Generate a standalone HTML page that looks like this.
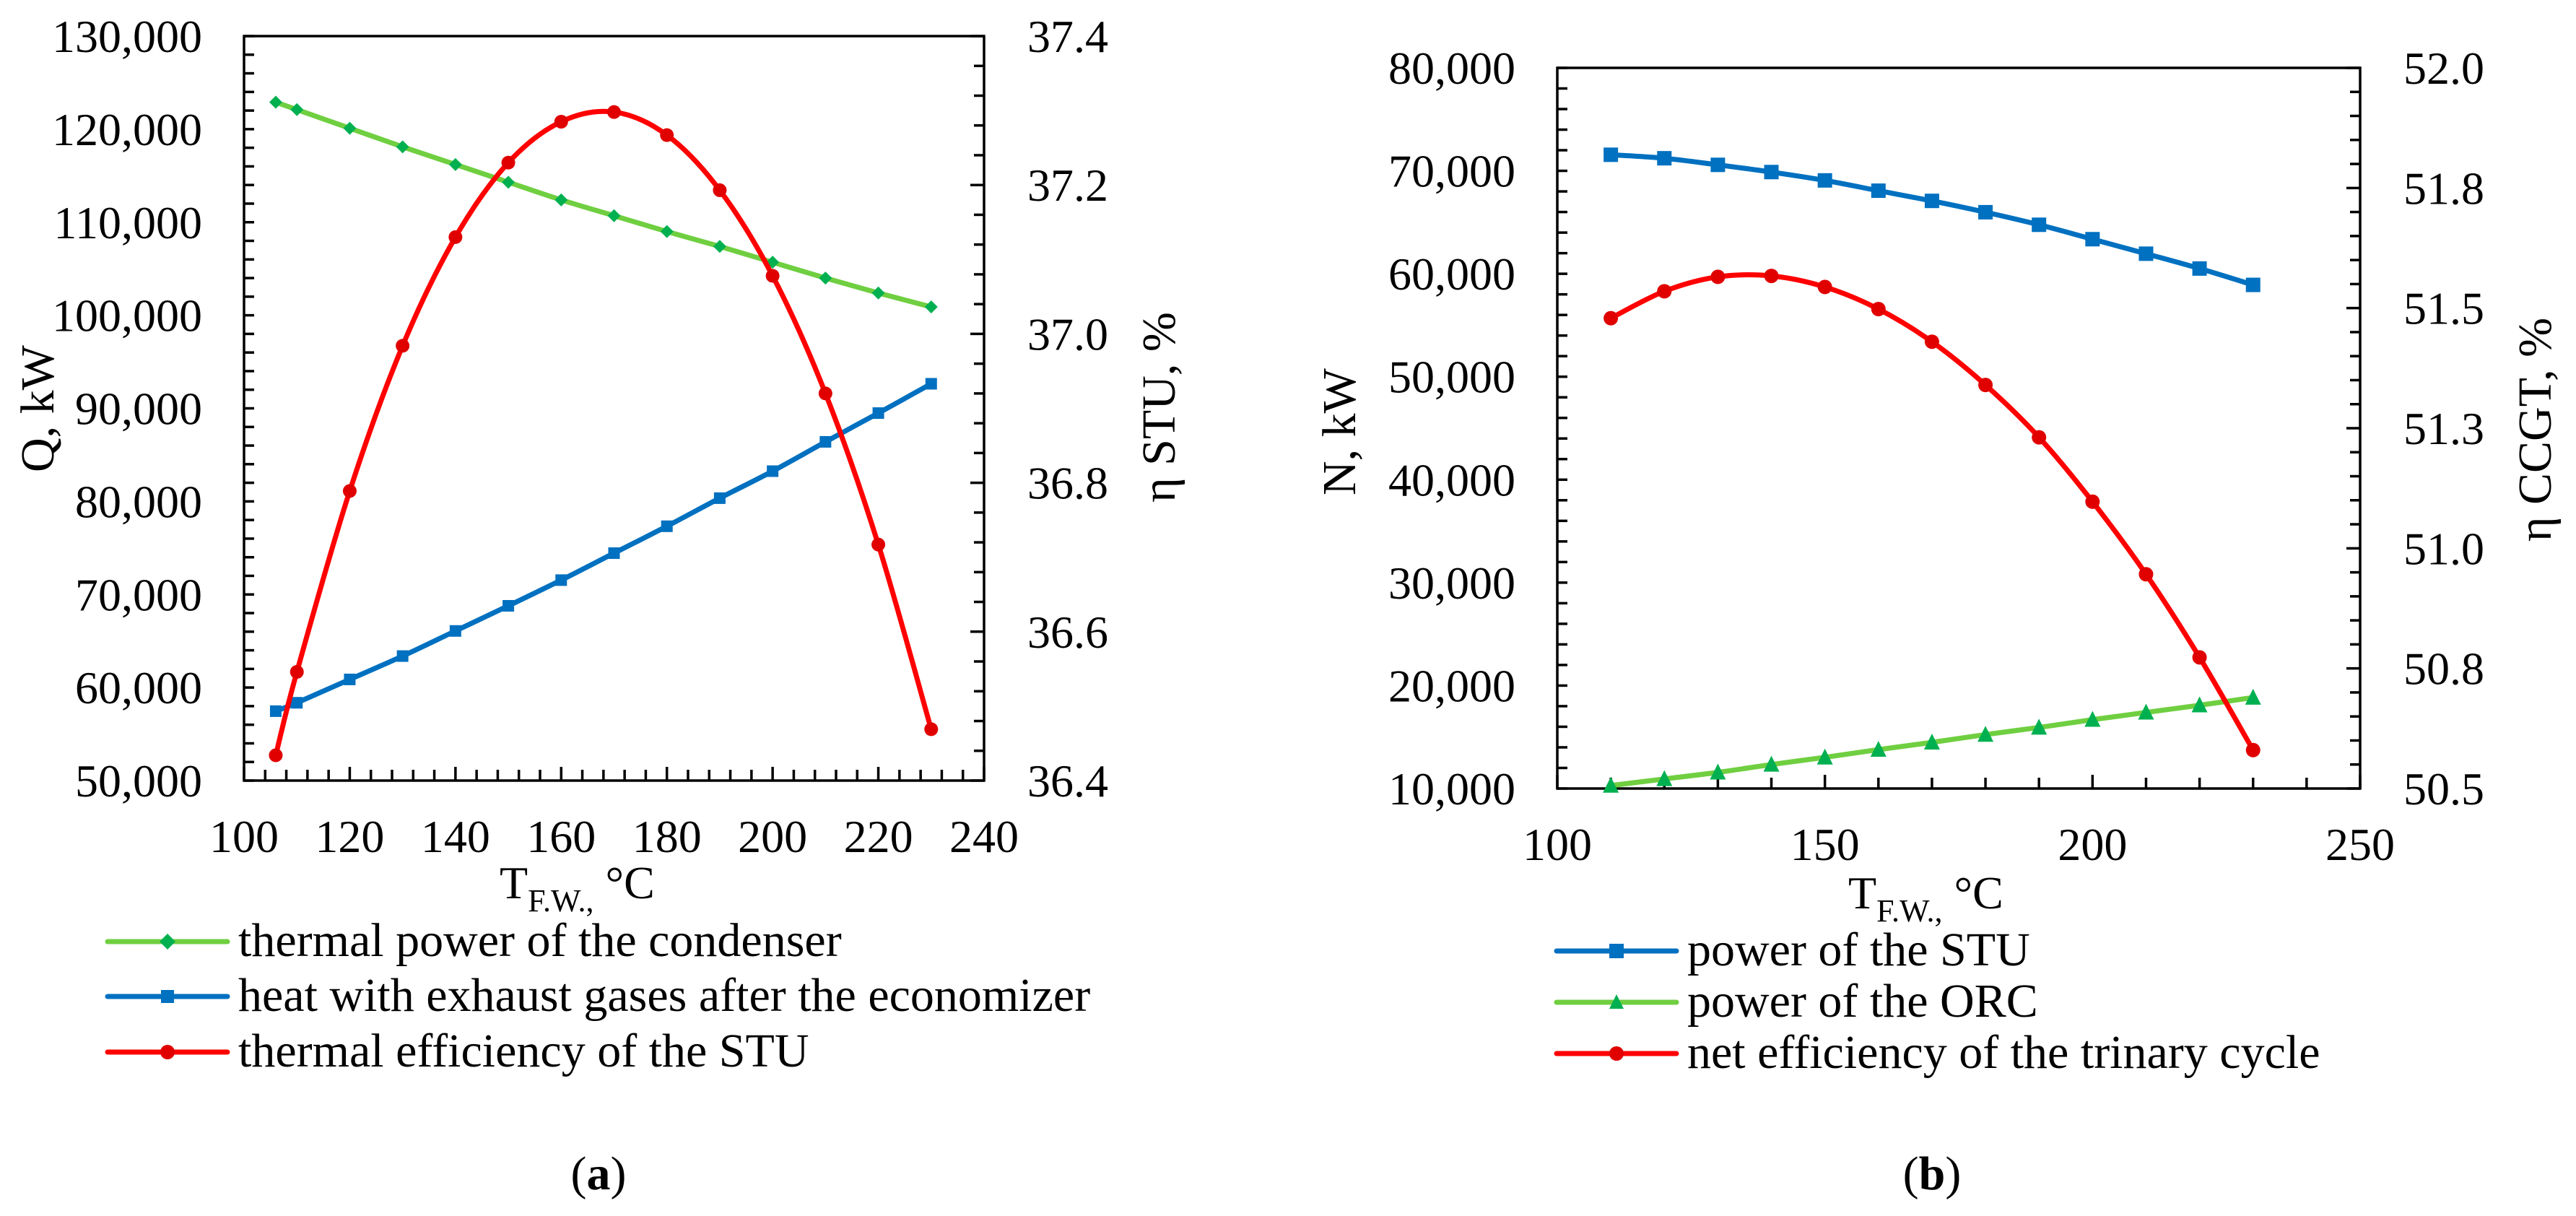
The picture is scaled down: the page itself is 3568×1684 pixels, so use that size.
<!DOCTYPE html>
<html><head><meta charset="utf-8"><style>
html,body{margin:0;padding:0;background:#fff}
svg{display:block}
text{font-family:"Liberation Serif",serif;fill:#000}
</style></head><body>
<svg id="fig" xmlns="http://www.w3.org/2000/svg" width="3568" height="1684" viewBox="0 0 3568 1684"></svg>
<script>
// ---- Chart (a) data ----
const aX = [106,110,120,130,140,150,160,170,180,190,200,210,220,230];
const aCondenser = [122900,122100,120100,118100,116200,114300,112400,110700,109000,107400,105700,104000,102400,100900];
const aExhaust = [57460,58360,60870,63380,66080,68780,71540,74440,77330,80350,83250,86400,89490,92640];
const aEta = [36.434,36.546,36.789,36.984,37.130,37.230,37.285,37.298,37.267,37.193,37.078,36.920,36.717,36.469];
const aXTicks = ["100","120","140","160","180","200","220","240"];
const aYTicks = ["50,000","60,000","70,000","80,000","90,000","100,000","110,000","120,000","130,000"];
const aY2Ticks = ["36.4","36.6","36.8","37.0","37.2","37.4"];
// ---- Chart (b) data ----
const bX = [110,120,130,140,150,160,170,180,190,200,210,220,230];
const bSTU = [71560,71220,70580,69880,69070,68070,67080,65980,64760,63360,61950,60510,58920];
const bORC = [10290,10930,11570,12330,13030,13780,14480,15240,15930,16690,17390,18090,18840];
const bEta = [51.479,51.535,51.565,51.567,51.544,51.498,51.430,51.340,51.231,51.097,50.946,50.773,50.580];
const bXTicks = ["100","150","200","250"];
const bYTicks = ["10,000","20,000","30,000","40,000","50,000","60,000","70,000","80,000"];
const bY2Ticks = ["50.5","50.8","51.0","51.3","51.5","51.8","52.0"];

const NS="http://www.w3.org/2000/svg";
const svg=document.getElementById('fig');
function mk(tag,attrs,parent){const e=document.createElementNS(NS,tag);for(const k in attrs)e.setAttribute(k,attrs[k]);(parent||svg).appendChild(e);return e;}
function scale(d0,d1,r0,r1){return v=>r0+(v-d0)/(d1-d0)*(r1-r0);}
function smoothPath(pts){
  let d=`M${pts[0][0]},${pts[0][1]}`;
  for(let i=0;i<pts.length-1;i++){
    const p0=pts[Math.max(0,i-1)],p1=pts[i],p2=pts[i+1],p3=pts[Math.min(pts.length-1,i+2)];
    const c1=[p1[0]+(p2[0]-p0[0])/6,p1[1]+(p2[1]-p0[1])/6];
    const c2=[p2[0]-(p3[0]-p1[0])/6,p2[1]-(p3[1]-p1[1])/6];
    d+=` C${c1[0]},${c1[1]} ${c2[0]},${c2[1]} ${p2[0]},${p2[1]}`;
  }
  return d;
}
function marker(g,type,x,y,fill,s){
  let e;
  if(type==='diamond')e=mk('polygon',{points:`${x},${y-s} ${x+s},${y} ${x},${y+s} ${x-s},${y}`,fill:fill},g);
  else if(type==='square')e=mk('rect',{x:x-s,y:y-s,width:2*s,height:2*s,fill:fill},g);
  else if(type==='circle')e=mk('circle',{cx:x,cy:y,r:s,fill:fill},g);
  else e=mk('polygon',{points:`${x},${y-s*1.1} ${x+s},${y+s*0.9} ${x-s},${y+s*0.9}`,fill:fill},g);
  return e;
}
function series(name,xs,ys,sx,sy,line,mcol,type,s){
  const g=mk('g',{});
  
  
  const pts=xs.map((x,i)=>[sx(x),sy(ys[i])]);
  const p=mk('path',{d:smoothPath(pts),fill:'none',stroke:line,'stroke-width':7,'stroke-linejoin':'round'},g);
  
  
  pts.forEach(pt=>{const m=marker(g,type,pt[0],pt[1],mcol,s);
    
    });
}
function txt(str,attrs,name){const t=mk('text',attrs);t.textContent=str;
  
  return t;}

function chart(c){
  const sx=scale(c.x0,c.x1,c.L,c.R), sy=scale(c.y0,c.y1,c.B,c.T), sy2=scale(c.z0,c.z1,c.B,c.T);
  const ax=mk('g',{stroke:'#000','stroke-width':3.5,fill:'none'});
  
  
  mk('rect',{x:c.L,y:c.T,width:c.R-c.L,height:c.B-c.T},ax);
  for(let v=c.y0;v<=c.y1+1e-9;v+=c.yMinor){const y=sy(v);mk('line',{x1:c.L,x2:c.L+14,y1:y,y2:y},ax);}
  for(let v=c.z0;v<=c.z1+1e-9;v+=c.zMinor){const y=sy2(v);const maj=Math.abs(((v-c.z0)/c.zMajor)-Math.round((v-c.z0)/c.zMajor))<1e-6;mk('line',{x1:c.R,x2:c.R-(maj?19:14),y1:y,y2:y},ax);}
  for(let v=c.x0;v<=c.x1+1e-9;v+=c.xMinor){const x=sx(v);const maj=Math.abs(((v-c.x0)/c.xMajor)-Math.round((v-c.x0)/c.xMajor))<1e-6;mk('line',{x1:x,x2:x,y1:c.B,y2:c.B-(maj?19:15)},ax);}
  c.yT.forEach((s,i)=>txt(s,{x:c.L-58,y:sy(c.y0+i*c.yMajor)+22,'font-size':64,'text-anchor':'end'},c.id+'-y-tick-label'));
  c.zT.forEach((s,i)=>txt(s,{x:c.R+60,y:sy2(c.z0+i*c.zMajor)+22,'font-size':64},c.id+'-y2-tick-label'));
  c.xT.forEach((s,i)=>txt(s,{x:sx(c.x0+i*c.xMajor),y:c.xLabY,'font-size':64,'text-anchor':'middle'},c.id+'-x-tick-label'));
  const tt=txt('',{x:c.xtX,y:c.xtY,'font-size':64},c.id+'-x-axis-title');
  tt.innerHTML='T<tspan font-size="44" dy="18">F.W.,</tspan><tspan dy="-18"> °C</tspan>';
  txt(c.yTitle,{x:0,y:0,'font-size':66,'text-anchor':'middle',transform:`translate(${c.ytX},${c.ytY}) rotate(-90)`},c.id+'-y-axis-title');
  txt(c.zTitle,{x:0,y:0,'font-size':66,'text-anchor':'middle',transform:`translate(${c.ztX},${c.ztY}) rotate(-90)`},c.id+'-y2-axis-title');
  return {sx,sy,sy2};
}
function legend(id,x,ys,items){
  items.forEach((it,i)=>{
    const g=mk('g',{});
    
    
    mk('line',{x1:x,x2:x+166,y1:ys[i],y2:ys[i],stroke:it.line,'stroke-width':7,'stroke-linecap':'round'},g);
    marker(g,it.type,x+83,ys[i],it.m,it.s);
    const t=mk('text',{x:x+181,y:ys[i]+20,'font-size':66},g);t.textContent=it.label;
  });
}

const A=chart({id:'chart-a',L:338,R:1363,T:50,B:1081,x0:100,x1:240,xMinor:4,xMajor:20,y0:50000,y1:130000,yMinor:2000,yMajor:10000,z0:36.4,z1:37.4,zMinor:0.04,zMajor:0.2,
  xT:aXTicks,yT:aYTicks,zT:aY2Ticks,xLabY:1180,xtX:692,xtY:1244,yTitle:'Q, kW',ytX:74,ytY:566,zTitle:'η STU, %',ztX:1627,ztY:564});
series('condenser-power',aX,aCondenser,A.sx,A.sy,'#6fcf40','#00b050','diamond',9);
series('exhaust-heat',aX,aExhaust,A.sx,A.sy,'#0070c0','#0070c0','square',8);
series('stu-efficiency',aX,aEta,A.sx,A.sy2,'#ff0000','#e00000','circle',9.5);
legend('chart-a',149,[1304,1380,1457],[
 {line:'#6fcf40',m:'#00b050',type:'diamond',s:11,label:'thermal power of the condenser'},
 {line:'#0070c0',m:'#0070c0',type:'square',s:9,label:'heat with exhaust gases after the economizer'},
 {line:'#ff0000',m:'#e00000',type:'circle',s:10,label:'thermal efficiency of the STU'}]);
const la=mk('text',{x:829,y:1647,'font-size':66,'text-anchor':'middle'});la.innerHTML='(<tspan font-weight="bold">a</tspan>)';



const B=chart({id:'chart-b',L:2157,R:3269,T:94,B:1092,x0:100,x1:250,xMinor:10,xMajor:50,y0:10000,y1:80000,yMinor:2000,yMajor:10000,z0:50.5,z1:52.0,zMinor:0.05,zMajor:0.25,
  xT:bXTicks,yT:bYTicks,zT:bY2Ticks,xLabY:1191,xtX:2560,xtY:1258,yTitle:'N, kW',ytX:1877,ytY:598,zTitle:'η CCGT, %',ztX:3533,ztY:595});
series('stu-power',bX,bSTU,B.sx,B.sy,'#0070c0','#0070c0','square',10);
series('orc-power',bX,bORC,B.sx,B.sy,'#6fcf40','#00b050','triangle',11);
series('trinary-efficiency',bX,bEta,B.sx,B.sy2,'#ff0000','#e00000','circle',10);
legend('chart-b',2156,[1317,1388,1459],[
 {line:'#0070c0',m:'#0070c0',type:'square',s:10,label:'power of the STU'},
 {line:'#6fcf40',m:'#00b050',type:'triangle',s:10,label:'power of the ORC'},
 {line:'#ff0000',m:'#e00000',type:'circle',s:10,label:'net efficiency of the trinary cycle'}]);
const lb=mk('text',{x:2676,y:1647,'font-size':66,'text-anchor':'middle'});lb.innerHTML='(<tspan font-weight="bold">b</tspan>)';


</script>
</body></html>
